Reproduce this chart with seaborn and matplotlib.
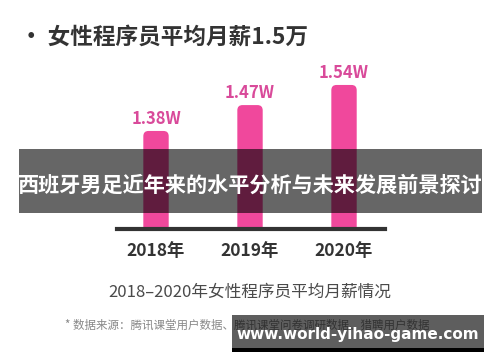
import matplotlib
matplotlib.use("Agg")
import matplotlib.pyplot as plt
import seaborn as sns
import pandas as pd
from matplotlib.patches import FancyBboxPatch, Rectangle

years = ["2018年", "2019年", "2020年"]
salary = [1.38, 1.47, 1.54]
value_labels = ["1.38W", "1.47W", "1.54W"]
title = "• 女性程序员平均月薪1.5万"
caption = "2018–2020年女性程序员平均月薪情况"
source = "* 数据来源：腾讯课堂用户数据、腾讯课堂问卷调研数据、猎聘用户数据"
banner = "西班牙男足近年来的水平分析与未来发展前景探讨"
watermark = "www.world-yihao-game.com"

sns.set_theme(style="white")
plt.rcParams['font.family'] = ['Noto Sans CJK SC', 'DejaVu Sans']

W, H = 500, 362
fig = plt.figure(figsize=(5, 3.62), dpi=100)
fig.patch.set_facecolor("white")

def px(x, y):
    return x / W, 1 - y / H

# axes: x from 117 to 385 px, baseline at y=229, top at y=60
ax = fig.add_axes([117 / W, (H - 229) / H, (385 - 117) / W, (229 - 60) / H])
df = pd.DataFrame({"year": years, "salary": salary})
pink = "#f0489c"
sns.barplot(data=df, x="year", y="salary", color=pink, width=0.27,
            saturation=1, ax=ax)

# round the bar tops
for p in list(ax.patches):
    x0, w = p.get_x(), p.get_width()
    h = p.get_height()
    p.remove()
    fb = FancyBboxPatch((x0, 0), w, h,
                        boxstyle="round,pad=0,rounding_size=0.055",
                        mutation_aspect=0.33, facecolor=pink,
                        edgecolor="none", zorder=2)
    ax.add_patch(fb)

ax.set_xlim(-0.415, 2.436)
ax.set_ylim(1.039, 1.039 + 169 / 287.5)
for i, (v, lab) in enumerate(zip(salary, value_labels)):
    ax.annotate(lab, (i, v), xytext=(0, 8.6), textcoords="offset points",
                ha="center", va="center", fontsize=12, fontweight="bold",
                color="#d94a9a")

for s in ["top", "right", "left"]:
    ax.spines[s].set_visible(False)
ax.spines["bottom"].set_color("#333333")
ax.spines["bottom"].set_linewidth(3)
ax.set_yticks([])
ax.set_xlabel("")
ax.set_ylabel("")
ax.tick_params(axis="x", length=0, pad=9, labelsize=12.5, labelcolor="#333333")
for t in ax.get_xticklabels():
    t.set_fontweight("bold")
ax.set_facecolor("none")

# title
fig.text(*px(20, 37), title, fontsize=16.3, fontweight="bold",
         color="#333333", ha="left", va="center")

# caption
fig.text(*px(250, 292), caption, fontsize=12, color="#4a4a4a",
         ha="center", va="center")

# source
fig.text(*px(65, 325), source, fontsize=8.3, color="#888888",
         ha="left", va="center")

# banner overlay
fig.patches.append(Rectangle(px(19, 213), (482 - 19) / W, (213 - 149) / H,
                             transform=fig.transFigure, facecolor="black",
                             alpha=0.6, edgecolor="none", zorder=10))
fig.text(*px(250, 185), banner, fontsize=15.2, fontweight="bold",
         color="white", ha="center", va="center", zorder=11)

# watermark
fig.patches.append(Rectangle(px(232, 348), (484 - 232) / W, (348 - 315) / H,
                             transform=fig.transFigure, facecolor="black",
                             alpha=0.63, edgecolor="none", zorder=10))
fig.patches.append(Rectangle(px(232, 352), (484 - 232) / W, 4 / H,
                             transform=fig.transFigure, facecolor="black",
                             edgecolor="none", zorder=10))
fig.text(*px(358, 334), watermark, fontsize=11, fontweight="bold",
         color="white", ha="center", va="center", zorder=11,
         family=["DejaVu Sans"])

fig.savefig("out.png", dpi=100, facecolor="white")
